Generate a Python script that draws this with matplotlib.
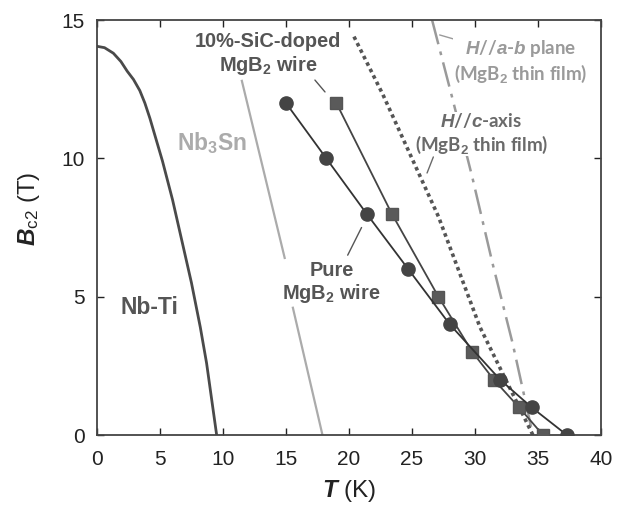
import numpy as np
import matplotlib
matplotlib.use('Agg')
import matplotlib.pyplot as plt

plt.rcParams['font.family'] = ['Liberation Sans', 'DejaVu Sans']
plt.rcParams['mathtext.fontset'] = 'custom'
plt.rcParams['mathtext.rm'] = 'Liberation Sans'
plt.rcParams['mathtext.it'] = 'Liberation Sans:italic'
plt.rcParams['mathtext.bf'] = 'Liberation Sans:bold'
plt.rcParams['mathtext.bfit'] = 'Liberation Sans:italic:bold'

############################################
# Nb-Ti curve
T_nbti = [0, 0.6, 1.3, 1.9, 2.4, 2.9, 3.4, 3.8, 4.2, 5.2, 6.0, 6.6, 7.5, 8.2, 8.7, 9.5]
B_nbti = [14.05, 14.0, 13.8, 13.5, 13.15, 12.85, 12.45, 12.0, 11.45, 9.9, 8.5, 7.3,
          5.5, 3.9, 2.6, 0]
# Nb3Sn (broken where the label sits)
T_nb3sn = [11.5, 14.9, np.nan, 15.55, 17.9]
B_nb3sn = [12.8, 6.4, np.nan, 4.6, 0]
# pure MgB2 wire
T_pure = [15.0, 18.2, 21.4, 24.7, 28.0, 32.0, 34.5, 37.3]
B_pure = [12, 10, 8, 6, 4, 2, 1, 0]
# 10%-SiC-doped MgB2 wire
T_sic = [19.0, 23.4, 27.1, 29.8, 31.5, 33.5, 35.4]
B_sic = [12, 8, 5, 3, 2, 1, 0]
# MgB2 thin film, H // c-axis
T_hc = [20.4, 22.7, 24.8, 27.1, 30.4, 34.6]
B_hc = [14.4, 12.3, 10.2, 7.9, 3.9, 0]
# MgB2 thin film, H // a-b plane
T_hab = [26.6, 28.25, 29.8, 31.4, 33.0, 34.6]
B_hab = [15, 12.1, 9.3, 6.2, 3.3, 0]
############################################

fig = plt.figure(figsize=(6.24, 5.13), dpi=100)
ax = fig.add_axes([0.1554, 0.152, 0.8076, 0.809])

ax.plot(T_nbti, B_nbti, color='#4a4a4a', lw=2.0)
ax.plot(T_nb3sn, B_nb3sn, color='#ababab', lw=1.6)
ax.plot(T_hab, B_hab, color='#9a9a9a', lw=1.8, linestyle=(0, (10, 3, 1.5, 3)))
ax.plot(T_hc, B_hc, color='#555555', lw=2.6, linestyle=(0, (1, 1)))
ax.plot(T_sic, B_sic, color='#444444', lw=1.3, marker='s', ms=9,
        mfc='#5a5a5a', mec='#555555', zorder=4)
ax.plot(T_pure, B_pure, color='#333333', lw=1.3, marker='o', ms=9.5,
        mfc='#444444', mec='#444444', zorder=5)

# labels
ax.text(4.2, 4.6, 'Nb-Ti', color='#555555', fontsize=16.5, fontweight='bold',
        ha='center', va='center')
ax.text(9.1, 10.55, r'Nb$_\mathbf{3}$Sn', color='#ababab', fontsize=16.5,
        fontweight='bold', ha='center', va='center')
ax.text(13.6, 13.75, '10%-SiC-doped\nMgB$_\\mathbf{2}$ wire', color='#555555',
        fontsize=14.4, fontweight='bold', ha='center', va='center',
        linespacing=1.15)
ax.text(18.6, 5.5, 'Pure\nMgB$_\\mathbf{2}$ wire', color='#555555',
        fontsize=14.4, fontweight='bold', ha='center', va='center',
        linespacing=1.15)
knock = dict(fc='white', ec='none', pad=0.5)
ax.text(30.5, 10.9, '$\\mathbfit{H}$//$\\mathbfit{c}$-axis\n(MgB$_\\mathbf{2}$ thin film)',
        color='#6a6a6a', fontsize=13.5, fontweight='bold', ha='center',
        va='center', linespacing=1.2, family=['Lato', 'DejaVu Sans'],
        bbox=knock, zorder=6)
ax.text(33.65, 13.5, '$\\mathbfit{H}$//$\\mathbfit{a}$-$\\mathbfit{b}$ plane\n(MgB$_\\mathbf{2}$ thin film)',
        color='#9a9a9a', fontsize=13.5, fontweight='bold', ha='center',
        va='center', linespacing=1.2, family=['Lato', 'DejaVu Sans'],
        bbox=knock, zorder=6)

# leader lines
leaders = [((17.3, 12.83), (18.1, 12.4), '#555555'),
           ((19.9, 6.5), (21.0, 7.5), '#555555'),
           ((26.7, 10.05), (26.2, 9.47), '#6a6a6a'),
           ((29.4, 14.17), (27.2, 14.46), '#9a9a9a')]
for a, b, c in leaders:
    ax.annotate('', xy=b, xytext=a,
                arrowprops=dict(arrowstyle='-', color=c, lw=1,
                                shrinkA=0, shrinkB=0))

ax.set_xlim(0, 40)
ax.set_ylim(0, 15)
ax.set_xticks(np.arange(0, 41, 5))
ax.set_yticks([0, 5, 10, 15])
ax.tick_params(direction='in', length=5, width=1, top=True, right=True,
               labelsize=15, colors='#222222')
ax.tick_params(axis='x', pad=11)
ax.tick_params(axis='y', pad=9)
for s in ax.spines.values():
    s.set_linewidth(1.3)
    s.set_color('#444444')

ax.set_xlabel('$\\mathbfit{T}$ (K)', fontsize=17.5, color='#222222', labelpad=6)
ax.set_ylabel('$\\mathbfit{B}_\\mathrm{c2}$ (T)', fontsize=17.5, color='#222222')
ax.yaxis.set_label_coords(-0.11, 0.545)

plt.savefig('out.png', dpi=100)
